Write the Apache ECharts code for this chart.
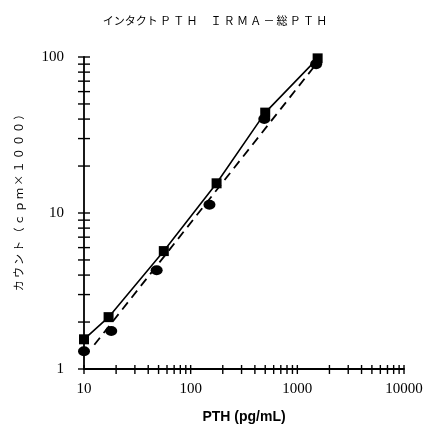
<!DOCTYPE html>
<html>
<head>
<meta charset="utf-8">
<title>インタクトPTH IRMA-総PTH</title>
<script src="https://cdn.jsdelivr.net/npm/echarts@6/dist/echarts.min.js"></script>
<style>
    html, body { margin: 0; padding: 0; background: #fff; }
    #main { width: 430px; height: 430px; }
</style>
</head>
<body>
<div id="main"></div>
<script>
// インタクトPTH（■ 実線）
let intactX = [10, 17, 56, 175, 500, 1550];
let intactY = [1.55, 2.15, 5.7, 15.5, 44, 98];

// IRMA-総PTH（● 破線は回帰直線）
let totalX = [10, 18, 48, 150, 490, 1500];
let totalY = [1.3, 1.75, 4.3, 11.3, 40, 90];

// 破線の両端
let fitX = [12.5, 1500];
let fitY = [1.43, 90];

// 目盛りの十進
let xDecades = [10, 100, 1000];
let yDecades = [1, 10];

function pairs(xs, ys) {
    let out = [];
    for (let i = 0; i < xs.length; i++) {
        out.push([xs[i], ys[i]]);
    }
    return out;
}

// 軸をまたぐ目盛り (1..9 x 十進)
let xTicks = [];
for (let d = 0; d < xDecades.length; d++) {
    for (let k = 1; k <= 9; k++) xTicks.push(xDecades[d] * k);
}
xTicks.push(10000);

let yTicks = [];
for (let d = 0; d < yDecades.length; d++) {
    for (let k = 1; k <= 9; k++) yTicks.push(yDecades[d] * k);
}
yTicks.push(100);

let myChart = echarts.init(document.getElementById('main'));

let labelFont = {
    color: '#000',
    fontFamily: 'Liberation Serif',
    fontSize: 15,
    formatter: function (v) { return String(v); }
};

let option = {
    backgroundColor: '#fff',
    animation: false,
    title: {
        text: 'インタクト\u2009Ｐ\u2009Ｔ\u2009Ｈ\u3000\u2009Ｉ\u2009Ｒ\u2009Ｍ\u2009Ａ\u2009－\u2009総\u2009Ｐ\u2009Ｔ\u2009Ｈ',
        left: 'center',
        top: 10,
        textStyle: {
            color: '#000',
            fontFamily: 'Noto Sans CJK JP',
            fontSize: 11,
            fontWeight: 'normal'
        }
    },
    grid: {
        left: 84,
        right: 26,
        top: 57,
        bottom: 61
    },
    xAxis: {
        type: 'log',
        logBase: 10,
        min: 10,
        max: 10000,
        name: 'PTH (pg/mL)',
        nameLocation: 'middle',
        nameGap: 41,
        nameTextStyle: {
            color: '#000',
            fontFamily: 'Liberation Sans',
            fontSize: 14,
            fontWeight: 'bold'
        },
        axisLine: { lineStyle: { color: '#000', width: 1.8 } },
        axisTick: { show: false },
        minorTick: { show: false },
        splitLine: { show: false },
        axisLabel: Object.assign({ margin: 13 }, labelFont)
    },
    yAxis: {
        type: 'log',
        logBase: 10,
        min: 1,
        max: 100,
        name: 'カ\u2009ウ\u2009ン\u2009ト\u2009（\u2009ｃ\u2009ｐ\u2009ｍ\u2009×\u2009１\u2009０\u2009０\u2009０\u2009）',
        nameLocation: 'middle',
        nameRotate: 90,
        nameGap: 60,
        nameTextStyle: {
            color: '#000',
            fontFamily: 'Noto Sans CJK JP',
            fontSize: 11,
            padding: [0, 0, 0, 26]
        },
        axisLine: { lineStyle: { color: '#000', width: 1.8 } },
        axisTick: { show: false },
        minorTick: { show: false },
        splitLine: { show: false },
        axisLabel: Object.assign({ margin: 20 }, labelFont)
    },
    series: [
        {
            // x軸の目盛り
            type: 'custom',
            silent: true,
            clip: false,
            data: xTicks,
            renderItem: function (params, api) {
                let p = api.coord([api.value(0), 1]);
                return {
                    type: 'line',
                    shape: { x1: p[0], y1: p[1] - 4, x2: p[0], y2: p[1] + 5 },
                    style: { stroke: '#000', lineWidth: 1.4 }
                };
            },
            encode: { x: 0 }
        },
        {
            // y軸の目盛り
            type: 'custom',
            silent: true,
            clip: false,
            data: yTicks,
            renderItem: function (params, api) {
                let p = api.coord([10, api.value(0)]);
                return {
                    type: 'line',
                    shape: { x1: p[0] - 6, y1: p[1], x2: p[0] + 6, y2: p[1] },
                    style: { stroke: '#000', lineWidth: 1.4 }
                };
            },
            encode: { y: 0 }
        },
        {
            name: 'インタクトPTH',
            type: 'line',
            data: pairs(intactX, intactY),
            symbol: 'rect',
            symbolSize: 10,
            itemStyle: { color: '#000', opacity: 1 },
            lineStyle: { color: '#000', width: 1.6 },
            z: 3
        },
        {
            name: '総PTH 回帰',
            type: 'line',
            data: pairs(fitX, fitY),
            showSymbol: false,
            symbol: 'none',
            lineStyle: { color: '#000', width: 1.8, type: [9, 6] },
            z: 2
        },
        {
            name: 'IRMA-総PTH',
            type: 'scatter',
            data: pairs(totalX, totalY),
            symbol: 'circle',
            symbolSize: [12, 10],
            itemStyle: { color: '#000', opacity: 1 },
            z: 4
        }
    ]
};

myChart.setOption(option);
</script>
</body>
</html>
